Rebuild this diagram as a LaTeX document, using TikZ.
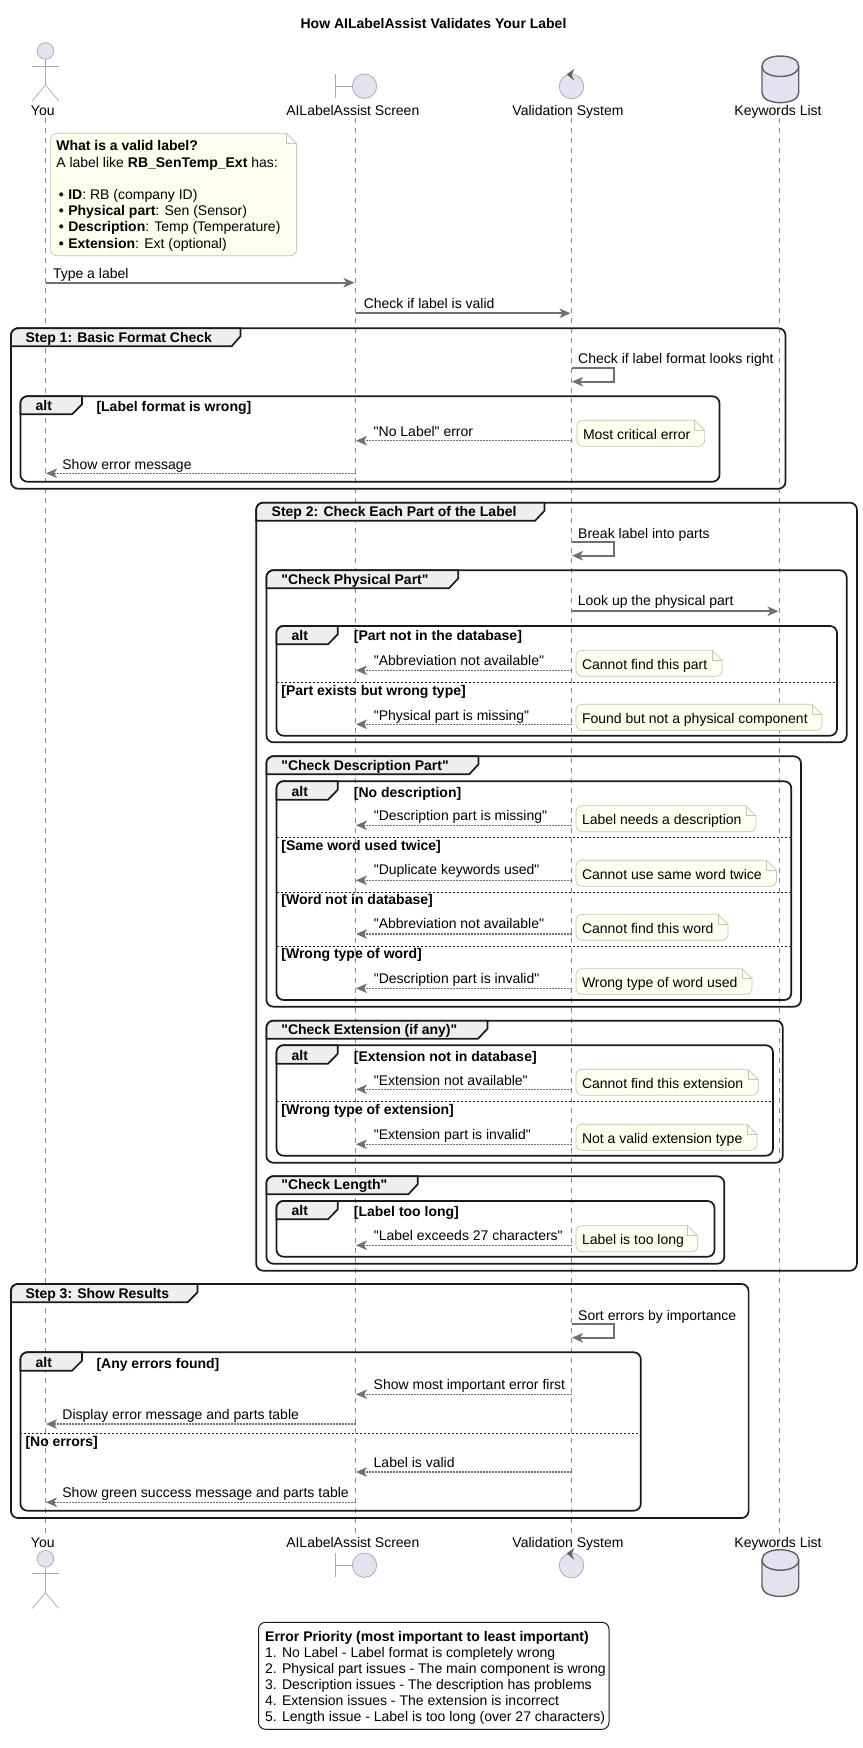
\documentclass[tikz,border=0pt]{standalone}
\usepackage{fontspec}
\setmainfont[Ligatures=TeXOff]{Liberation Sans}
\usetikzlibrary{arrows.meta}
\definecolor{actfill}{HTML}{E2E2F0}
\definecolor{actline}{HTML}{A8A8B0}
\definecolor{dbline}{HTML}{606060}
\definecolor{msgcol}{HTML}{707070}
\definecolor{lifecol}{HTML}{8A8A8A}
\definecolor{notefill}{HTML}{FEFFEE}
\definecolor{noteline}{HTML}{C4C4B8}
\definecolor{tabfill}{HTML}{EEEEEE}
\definecolor{frameline}{HTML}{1A1A1A}
\tikzset{
  fs14/.style={font=\fontsize{14}{16}\selectfont},
  txt/.style={fs14,anchor=west,inner sep=0pt,text height=9.5pt,text depth=0pt},
  btxt/.style={txt,font=\fontsize{14}{16}\selectfont\bfseries},
  parttxt/.style={anchor=center,inner sep=0pt,text height=10pt,text depth=0pt,font=\fontsize{14}{16}\selectfont},
  lifeline/.style={draw=lifecol,line width=.7pt,dash pattern=on 5pt off 5pt},
  actshape/.style={draw=actline,line width=.7pt,fill=actfill},
  actstroke/.style={draw=actline,line width=.7pt},
  dbshape/.style={draw=dbline,line width=1.4pt,fill=actfill},
  solidmsg/.style={draw=msgcol,line width=1.8pt,-{Stealth[length=11pt,width=9.5pt,inset=3pt]}},
  dotmsg/.style={draw=msgcol,line width=1.3pt,dash pattern=on 1.6pt off 1.4pt,-{Stealth[length=11pt,width=9.5pt,inset=3pt]}},
  framebox/.style={draw=frameline,line width=1.7pt,rounded corners=7pt},
  tabbox/.style={draw=frameline,line width=1.7pt,fill=tabfill},
  divider/.style={draw=frameline,line width=.9pt,dash pattern=on 2pt off 2pt},
  notebox/.style={draw=noteline,line width=.7pt,fill=notefill},
  foldline/.style={draw=noteline,line width=.7pt},
  legendbox/.style={draw=frameline,line width=1pt,rounded corners=7pt,fill=white},
}
\def\XA{45.5}\def\XB{355.5}\def\XC{571.5}\def\XD{779.5}
\def\XBl{356}\def\XAl{46}\def\XBr{354.5}\def\XCr{570.5}\def\XDr{778.5}
% frame: id x1 y1 x2 y2 tabTopRightX tabBottomRightX tabBottomY
\newcommand{\frm}[8]{%
  \draw[framebox] (#2,#3) rectangle (#4,#5);
  \draw[tabbox] (#2,#8) [rounded corners=7pt] -- (#2,#3) -- (#2+12,#3) [sharp corners] -- (#6,#3) -- (#6,#8-10) -- (#7,#8) -- cycle;
}
% note: id x1 y1 x2 y2 text
\newcommand{\notebx}[6]{%
  \draw[notebox] (#2,#3+13) [rounded corners=6pt] -- (#2,#3) -- (#4-16,#3) [sharp corners] -- (#4-10,#3) -- (#4,#3+10) [rounded corners=6pt] -- (#4,#5) -- (#2,#5) -- cycle;
  \draw[foldline] (#4-10,#3) -- (#4-10,#3+10) -- (#4,#3+10);
  \node[txt] (#1) at (#2+5.8,#3+14) {#6};
}
% message: id fromX toX y style labelX labelCY text
\newcommand{\msg}[8]{%
  \coordinate (#1s) at (#2,#4);
  \coordinate (#1e) at (#3,#4);
  \draw[#5] (#1s) -- (#1e);
  \node[txt] (#1t) at (#6,#7) {#8};
}
% self message: id y1 y2 labelCY text
\newcommand{\selfmsg}[5]{%
  \coordinate (#1s) at (\XC,#2);
  \coordinate (#1m) at (613.7,#2);
  \coordinate (#1n) at (613.7,#3);
  \coordinate (#1e) at (\XC+.5,#3);
  \draw[solidmsg] (#1s) -- (#1m) -- (#1n) -- (#1e);
  \node[txt] (#1t) at (578,#4) {#5};
}
% divider: id x1 x2 y condX condCY text
\newcommand{\dvd}[7]{%
  \coordinate (#1a) at (#2,#4);
  \coordinate (#1b) at (#3,#4);
  \draw[divider] (#1a) -- (#1b);
  \node[btxt] (#1t) at (#5,#6) {#7};
}
\begin{document}
\begin{tikzpicture}[x=1pt,y=-1pt]
\useasboundingbox (0,0) rectangle (862,1748);
\fill[white] (0,0) rectangle (862,1748);

\node[anchor=center,inner sep=0pt,text height=10pt,text depth=0pt,font=\fontsize{14}{16}\selectfont\bfseries] (title) at (433.5,23.3) {How AILabelAssist Validates Your Label};

% lifelines
\coordinate (you1) at (\XA,118); \coordinate (you2) at (\XA,1535);
\coordinate (scr1) at (\XB,118); \coordinate (scr2) at (\XB,1535);
\coordinate (val1) at (\XC,118); \coordinate (val2) at (\XC,1535);
\coordinate (key1) at (\XD,118); \coordinate (key2) at (\XD,1535);
\draw[lifeline] (you1) -- (you2);
\draw[lifeline] (scr1) -- (scr2);
\draw[lifeline] (val1) -- (val2);
\draw[lifeline] (key1) -- (key2);

% participants, top and bottom
\foreach \dy/\dyb/\dyc/\lab in {0/0/0/110,1507.7/1479/1493.7/1542.3}{
  \draw[actshape] (\XA,51+\dy) ellipse (8.3 and 8.3);
  \draw[actstroke] (\XA,59.3+\dy) -- (\XA,85+\dy);
  \draw[actstroke] (32.3,66+\dy) -- (58.7,66+\dy);
  \draw[actstroke] (32.3,100.7+\dy) -- (\XA,85+\dy) -- (58.7,100.7+\dy);
  \draw[actshape] (364.5,86.2+\dyb) ellipse (12.2 and 12.2);
  \draw[actstroke] (335.7,74+\dyb) -- (335.7,98.4+\dyb);
  \draw[actstroke] (335.7,86.2+\dyb) -- (352.3,86.2+\dyb);
  \draw[actshape] (\XC,86.5+\dyb) ellipse (12.3 and 12.3);
  \fill[dbline] (566.7,74.3+\dyb) -- (574.3,69+\dyb) -- (571.6,75+\dyb) -- (574.2,80.7+\dyb) -- cycle;
  \draw[dbshape] (762,66+\dyc) .. controls (762,52.7+\dyc) and (798.7,52.7+\dyc) .. (798.7,66+\dyc) -- (798.7,92.7+\dyc) .. controls (798.7,106+\dyc) and (762,106+\dyc) .. (762,92.7+\dyc) -- cycle;
  \draw[dbline,line width=1.4pt] (762,66+\dyc) .. controls (762,80+\dyc) and (798.7,80+\dyc) .. (798.7,66+\dyc);
}
\node[parttxt] (you)  at (42.8,110) {You};
\node[parttxt] (scr)  at (352.8,110) {AILabelAssist Screen};
\node[parttxt] (val)  at (568,110) {Validation System};
\node[parttxt] (key)  at (778,110) {Keywords List};
\node[parttxt] (youb) at (42.8,1542.3) {You};
\node[parttxt] (scrb) at (352.8,1542.3) {AILabelAssist Screen};
\node[parttxt] (valb) at (568,1542.3) {Validation System};
\node[parttxt] (keyb) at (778,1542.3) {Keywords List};

% first note
\draw[notebox] (50.6,150) [rounded corners=6pt] -- (50.6,133.3) -- (280,133.3) [sharp corners] -- (286.5,133.3) -- (296.5,143.3) [rounded corners=6pt] -- (296.5,255.7) -- (50.6,255.7) -- cycle;
\draw[foldline] (286.5,133.3) -- (286.5,143.3) -- (296.5,143.3);
\node[anchor=north west,inner sep=0pt,align=left,font=\fontsize{14}{16.2}\selectfont] (whatis) at (56.1,140.5) {\textbf{What is a valid label?}\\
A label like \textbf{RB\_SenTemp\_Ext} has:\\
~\\
\makebox[12pt][l]{\hspace{2.6pt}\textbf{•}}\textbf{ID}: RB (company ID)\\
\makebox[12pt][l]{\hspace{2.6pt}\textbf{•}}\textbf{Physical part}: Sen (Sensor)\\
\makebox[12pt][l]{\hspace{2.6pt}\textbf{•}}\textbf{Description}: Temp (Temperature)\\
\makebox[12pt][l]{\hspace{2.6pt}\textbf{•}}\textbf{Extension}: Ext (optional)};

\msg{m1}{\XA}{\XBr}{282.7}{solidmsg}{52.8}{273.3}{Type a label}
\msg{m2}{\XB}{\XCr}{313.3}{solidmsg}{363.6}{303.3}{Check if label is valid}

% Step 1
\frm{s1}{11}{328.3}{785.5}{488.7}{240.4}{231.6}{346.3}
\node[btxt] (s1t) at (25.3,337.3) {Step 1: Basic Format Check};
\selfmsg{m3}{368}{381.7}{358.3}{Check if label format looks right}
\frm{a1}{20.4}{396.3}{719.5}{481.7}{82}{72}{414.3}
\node[btxt] (a1t) at (35.5,405.3) {alt};
\node[btxt] (a1c) at (96.3,406.3) {[Label format is wrong]};
\msg{m4}{\XC}{\XBl}{440.7}{dotmsg}{373.5}{431.3}{"No Label" error}
\notebx{n1}{577}{420.3}{704.6}{446.3}{Most critical error}
\msg{m5}{\XB}{\XAl}{473.3}{dotmsg}{62.2}{464.3}{Show error message}

% Step 2
\frm{s2}{256.2}{502.7}{856.9}{1270.7}{544.5}{535.1}{520.7}
\node[btxt] (s2t) at (271.5,512) {Step 2: Check Each Part of the Label};
\selfmsg{m6}{542}{555.7}{533.3}{Break label into parts}

% physical
\frm{g1}{266.4}{570.3}{846.7}{742.3}{458.3}{449}{588.3}
\node[btxt] (g1t) at (281.2,580) {"Check Physical Part"};
\msg{m7}{\XC}{\XDr}{611.3}{solidmsg}{577.6}{601}{Look up the physical part}
\frm{a2}{276.5}{626}{837}{735.7}{337.8}{328}{644.3}
\node[btxt] (a2t) at (291.5,635.3) {alt};
\node[btxt] (a2c) at (353.7,636) {[Part not in the database]};
\msg{m8}{\XC}{\XBl}{670.3}{dotmsg}{373.6}{660.3}{"Abbreviation not available"}
\notebx{n2}{576}{650.3}{722}{676.3}{Cannot find this part}
\dvd{d1}{276.5}{837}{682.3}{281.2}{690.3}{[Part exists but wrong type]}
\msg{m9}{\XC}{\XBl}{724.3}{dotmsg}{373.6}{715.3}{"Physical part is missing"}
\notebx{n3}{576}{704.3}{822}{730.3}{Found but not a physical component}

% description
\frm{g2}{266.4}{756.3}{801}{1006.7}{478.5}{469.2}{774.3}
\node[btxt] (g2t) at (281.2,766) {"Check Description Part"};
\frm{a3}{276.5}{781.3}{791.3}{1000}{337.8}{328}{799.7}
\node[btxt] (a3t) at (291.5,791.3) {alt};
\node[btxt] (a3c) at (353.7,792.3) {[No description]};
\msg{m10}{\XC}{\XBl}{825.3}{dotmsg}{373.6}{816}{"Description part is missing"}
\notebx{n4}{576}{805.7}{755.9}{831.7}{Label needs a description}
\dvd{d2}{276.5}{791.3}{837.3}{281.2}{846}{[Same word used twice]}
\msg{m11}{\XC}{\XBl}{880.3}{dotmsg}{373.6}{870}{"Duplicate keywords used"}
\notebx{n5}{576}{860.3}{776.5}{886.3}{Cannot use same word twice}
\dvd{d3}{276.5}{791.3}{892.3}{281.2}{900}{[Word not in database]}
\msg{m12}{\XC}{\XBl}{934}{dotmsg}{373.6}{924}{"Abbreviation not available"}
\notebx{n6}{576}{914.3}{728}{940.3}{Cannot find this word}
\dvd{d4}{276.5}{791.3}{946.3}{281.2}{954}{[Wrong type of word]}
\msg{m13}{\XC}{\XBl}{988.3}{dotmsg}{373.6}{979}{"Description part is invalid"}
\notebx{n7}{576}{968.7}{752}{994.3}{Wrong type of word used}

% extension
\frm{g3}{266.4}{1020.7}{782.8}{1162.7}{487.5}{478}{1038.7}
\node[btxt] (g3t) at (281.2,1030) {"Check Extension (if any)"};
\frm{a4}{276.5}{1045.3}{773}{1155.7}{337.8}{328}{1063.7}
\node[btxt] (a4t) at (291.5,1055.3) {alt};
\node[btxt] (a4c) at (353.7,1056.3) {[Extension not in database]};
\msg{m14}{\XC}{\XBl}{1089.3}{dotmsg}{373.6}{1080.3}{"Extension not available"}
\notebx{n8}{576}{1069.3}{758.2}{1095.3}{Cannot find this extension}
\dvd{d5}{276.5}{773}{1101.3}{281.2}{1110}{[Wrong type of extension]}
\msg{m15}{\XC}{\XBl}{1144.3}{dotmsg}{373.6}{1134.3}{"Extension part is invalid"}
\notebx{n9}{576}{1124.3}{757}{1150.3}{Not a valid extension type}

% length
\frm{g4}{266.4}{1176.3}{724.3}{1263.7}{417.7}{408.3}{1194.3}
\node[btxt] (g4t) at (281.2,1185) {"Check Length"};
\frm{a5}{276.5}{1201}{714.5}{1256.7}{337.8}{328}{1219.3}
\node[btxt] (a5t) at (291.5,1210.3) {alt};
\node[btxt] (a5c) at (353.7,1211.3) {[Label too long]};
\msg{m16}{\XC}{\XBl}{1245.3}{dotmsg}{373.6}{1236}{"Label exceeds 27 characters"}
\notebx{n10}{576}{1225.7}{697.7}{1251.7}{Label is too long}

% Step 3
\frm{s3}{11}{1284}{748.6}{1518}{197.5}{187.6}{1302.3}
\node[btxt] (s3t) at (25.3,1294) {Step 3: Show Results};
\selfmsg{m17}{1324}{1337.7}{1315.3}{Sort errors by importance}
\frm{a6}{20.4}{1352.3}{640.8}{1510.7}{82}{72}{1370.7}
\node[btxt] (a6t) at (35.5,1362.7) {alt};
\node[btxt] (a6c) at (96.3,1363.7) {[Any errors found]};
\msg{m18}{\XC}{\XBl}{1394.3}{dotmsg}{373.5}{1384.3}{Show most important error first}
\msg{m19}{\XB}{\XAl}{1424}{dotmsg}{62.2}{1414.3}{Display error message and parts table}
\dvd{d6}{20.4}{640.8}{1433.3}{25.3}{1441.7}{[No errors]}
\msg{m20}{\XC}{\XBl}{1472}{dotmsg}{373.5}{1462.3}{Label is valid}
\msg{m21}{\XB}{\XAl}{1502.3}{dotmsg}{62.2}{1492.3}{Show green success message and parts table}

% legend
\draw[legendbox] (258.5,1622.3) rectangle (609,1729.3);
\node[anchor=north west,inner sep=0pt,align=left,font=\fontsize{14}{16.1}\selectfont] (legend) at (265,1631) {\textbf{Error Priority (most important to least important)}\\
1. No Label - Label format is completely wrong\\
2. Physical part issues - The main component is wrong\\
3. Description issues - The description has problems\\
4. Extension issues - The extension is incorrect\\
5. Length issue - Label is too long (over 27 characters)};
\end{tikzpicture}
\end{document}
